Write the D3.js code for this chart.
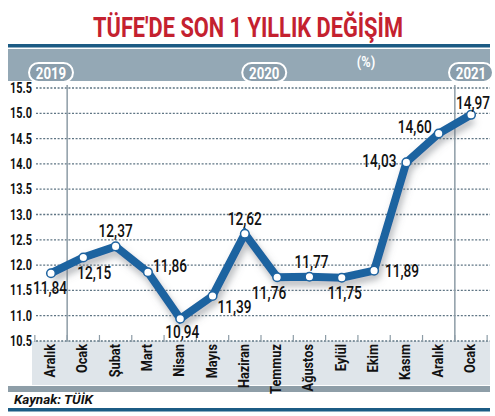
<!DOCTYPE html>
<html><head><meta charset="utf-8">
<script src="https://cdn.jsdelivr.net/npm/d3@7"></script>
<style>
html,body{margin:0;padding:0;background:#fff;}
svg{display:block;}
text{font-family:Roboto,"DejaVu Sans",sans-serif;}
</style></head><body>
<svg id="c" width="495" height="416"></svg>
<script>
const categories = ["Aralık","Ocak","Şubat","Mart","Nisan","Mayıs","Haziran","Temmuz","Ağustos","Eylül","Ekim","Kasım","Aralık","Ocak"];
const values = [11.84,12.15,12.37,11.86,10.94,11.39,12.62,11.76,11.77,11.75,11.89,14.03,14.60,14.97];
const yTicks = [10.5,11.0,11.5,12.0,12.5,13.0,13.5,14.0,14.5,15.0,15.5];
const years = [{label:"2019", at:0},{label:"2020", at:6.6},{label:"2021", at:13}];
const yearSeparators = [0.5, 12.5];
// label placement offsets (dx, dy) from point, layout only
const labelOffsets = [[-1,14],[11,15],[0,-16],[22,-6],[2,13],[22,11],[0,-15],[-8,15],[2,-15],[3,15],[28,0],[-27,-2],[-24,-7],[2,-12]];

const svg = d3.select("#c");
const idx = d3.range(categories.length);
const x = d3.scalePoint().domain(idx).range([51,471]);
const step = x.step();
const y = d3.scaleLinear().domain([10.5,15.5]).range([341,88]);
const xc = v => 51 + v*step;

// condensed text helper
function ctext(g, px, py, str, opt) {
  const sx = opt.sx || 0.8;
  const t = g.append("text")
    .attr("transform", `translate(${px},${py}) ${opt.rot ? "rotate("+opt.rot+")" : ""} scale(${sx},1)`)
    .attr("text-anchor", opt.anchor || "start")
    .attr("font-size", opt.size || 13)
    .attr("font-weight", opt.weight || "normal")
    .attr("font-style", opt.style || "normal")
    .attr("fill", opt.fill || "#111")
    .text(str);
  if (opt.dy) t.attr("dy", opt.dy);
  if (opt.width) {
    const w = t.node().getComputedTextLength();
    const s = opt.width / w;
    t.attr("transform", `translate(${px},${py}) scale(${s},1)`);
  }
  return t;
}

// title
ctext(svg, 248, 37, "TÜFE'DE SON 1 YILLIK DEĞİŞİM", {anchor:"middle", size:27, weight:"bold", fill:"#c4212f", width:310});

// top dark line and band
svg.append("rect").attr("x",8).attr("y",44).attr("width",482).attr("height",3.5).attr("fill","#1b5b84");
svg.append("rect").attr("x",8).attr("y",49).attr("width",482).attr("height",32).attr("fill","#94a8b5");

// label band
svg.append("rect").attr("x",32).attr("y",341).attr("width",458).attr("height",44).attr("fill","#dfe5ea");
svg.append("rect").attr("x",8).attr("y",386).attr("width",482).attr("height",6).attr("fill","#8e9ea8");
svg.append("rect").attr("x",8).attr("y",408).attr("width",482).attr("height",3.5).attr("fill","#1b5b84");
ctext(svg, 14, 404, "Kaynak: TÜİK", {size:13.5, weight:"bold", style:"italic", width:79});

// gridlines
svg.append("g").selectAll("line").data(yTicks).join("line")
  .attr("x1",36).attr("x2",490).attr("y1",d=>y(d)).attr("y2",d=>y(d))
  .attr("stroke","#5f7584").attr("stroke-width",1.3).attr("stroke-dasharray","2,1.6");

// y axis labels
const gy = svg.append("g");
yTicks.forEach(d => ctext(gy, 32, y(d), d.toFixed(1), {anchor:"end", size:14, weight:"bold", sx:0.78, dy:"0.36em"}));

// year separators
svg.append("g").selectAll("line").data(yearSeparators).join("line")
  .attr("x1",d=>xc(d)).attr("x2",d=>xc(d)).attr("y1",85).attr("y2",341)
  .attr("stroke","#8d9ca6").attr("stroke-width",1.5);

// bottom ticks at category boundaries
const bounds = d3.range(categories.length+1).map(i=>i-0.5);
svg.append("g").selectAll("line").data(bounds).join("line")
  .attr("x1",d=>xc(d)).attr("x2",d=>xc(d)).attr("y1",335).attr("y2",342)
  .attr("stroke","#8d9ca6").attr("stroke-width",1.2);

// x labels
const gx = svg.append("g");
idx.forEach(i => ctext(gx, x(i)+4, 344, categories[i], {anchor:"end", size:15, weight:"bold", rot:-90, sx:0.85}));

// year pills
const pills = svg.append("g").selectAll("g").data(years).join("g")
  .attr("transform",d=>`translate(${xc(d.at)},72.5)`);
pills.append("rect").attr("x",-22).attr("y",-9.5).attr("width",44).attr("height",19).attr("rx",9.5)
  .attr("fill","#8a9eac").attr("stroke","#fff").attr("stroke-width",2);
pills.each(function(d){ ctext(d3.select(this), 0, 6, d.label, {anchor:"middle", size:17, weight:"bold", fill:"#fff", sx:0.78}); });
ctext(svg, 366, 67, "(%)", {anchor:"middle", size:15, weight:"bold", fill:"#fff", sx:0.85});

// shadow filter
const defs = svg.append("defs");
const f = defs.append("filter").attr("id","sh").attr("x","-10%").attr("y","-10%").attr("width","130%").attr("height","140%");
f.append("feDropShadow").attr("dx",2).attr("dy",5).attr("stdDeviation",3.5)
  .attr("flood-color","#6b7177").attr("flood-opacity",0.5);

const line = d3.line().x(i=>x(i)).y(i=>y(values[i]));
svg.append("path").datum(idx).attr("d",line).attr("fill","none")
  .attr("stroke","#1e63a0").attr("stroke-width",8).attr("stroke-linejoin","miter")
  .attr("filter","url(#sh)");

svg.append("g").selectAll("circle").data(idx).join("circle")
  .attr("cx",i=>x(i)).attr("cy",i=>y(values[i])).attr("r",4.3)
  .attr("fill","#fff").attr("stroke","#1e63a0").attr("stroke-width",1.5);

// value labels
const gv = svg.append("g");
idx.forEach(i => ctext(gv, x(i)+labelOffsets[i][0], y(values[i])+labelOffsets[i][1],
  values[i].toFixed(2).replace(".",","), {anchor:"middle", size:17.5, weight:"500", sx:0.78, dy:"0.36em"}));
</script></body></html>
